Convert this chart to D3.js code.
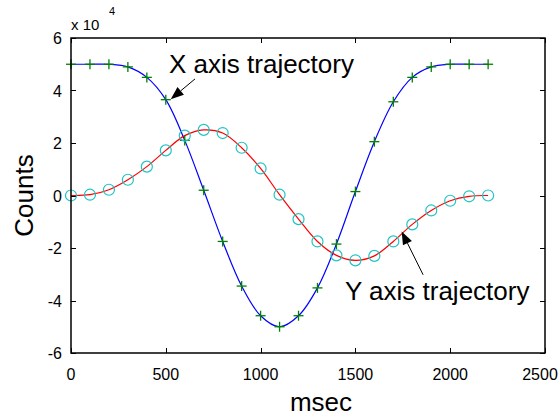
<!DOCTYPE html>
<html>
<head>
<meta charset="utf-8">
<script src="https://cdn.jsdelivr.net/npm/d3@7"></script>
<style>
  body { margin: 0; background: #fff; }
  text { font-family: "Liberation Sans", Arial, sans-serif; fill: #000; }
</style>
</head>
<body>
<script>
// size of the page
var w = 560;
var h = 417;
var margin = { top: 38, right: 15, bottom: 64, left: 71 };

// time axis, one sample every 100 msec
var msec = [0, 100, 200, 300, 400, 500, 600, 700, 800, 900, 1000, 1100,
            1200, 1300, 1400, 1500, 1600, 1700, 1800, 1900, 2000, 2100, 2200];

// X axis trajectory (counts)
var xTraj = [50000, 50000, 50000, 49000, 45000, 36500, 21000, 2000, -17500, -34500, -45800, -50000,
             -45800, -35200, -18500, 1500, 20500, 35700, 45000, 49000, 50000, 50000, 50000];

// Y axis trajectory (counts)
var yTraj = [0, 300, 2200, 6000, 11000, 17200, 22800, 25000, 23800, 18200, 10300, 300,
             -9000, -17500, -22800, -24700, -23000, -17500, -11000, -5700, -2000, -300, 0];

var xTicks = [0, 500, 1000, 1500, 2000, 2500];
var yTicks = [-60000, -40000, -20000, 0, 20000, 40000, 60000];
var yTickLabels = ["-6", "-4", "-2", "0", "2", "4", "6"];

// annotations: text anchor and arrow (tail -> tip) in data units
var notes = [
  { label: "X axis trajectory", tx: 517, ty: 46800, ax0: 654, ay0: 44400, ax1: 526, ay1: 36700 },
  { label: "Y axis trajectory", tx: 1445, ty: -39700, ax0: 1857, ay0: -30200, ax1: 1744, ay1: -13700 }
];

var svg = d3.select("body")
  .append("svg")
  .attr("width", w)
  .attr("height", h);

var xScale = d3.scaleLinear()
  .domain([0, 2500])
  .range([margin.left, w - margin.right]);

var yScale = d3.scaleLinear()
  .domain([-60000, 60000])
  .range([h - margin.bottom, margin.top]);

var x0 = xScale.range()[0], x1 = xScale.range()[1];
var y0 = yScale.range()[0], y1 = yScale.range()[1];

// ticks on all four sides, pointing inward
var tk = 5;
var tickG = svg.append("g").attr("stroke", "#000").attr("stroke-width", 1);
xTicks.forEach(function(t) {
  var x = Math.round(xScale(t)) + 0.5;
  tickG.append("line").attr("x1", x).attr("x2", x).attr("y1", y0).attr("y2", y0 - tk);
  tickG.append("line").attr("x1", x).attr("x2", x).attr("y1", y1).attr("y2", y1 + tk);
});
yTicks.forEach(function(t) {
  var y = Math.round(yScale(t)) + 0.5;
  tickG.append("line").attr("x1", x0).attr("x2", x0 + tk).attr("y1", y).attr("y2", y);
  tickG.append("line").attr("x1", x1).attr("x2", x1 - tk).attr("y1", y).attr("y2", y);
});

// tick labels (last one pulled in so it stays on the page)
svg.append("g").selectAll("text")
  .data(xTicks)
  .enter()
  .append("text")
  .attr("x", function(d) { return Math.min(xScale(d), w - 20); })
  .attr("y", y0 + 27)
  .attr("text-anchor", "middle")
  .style("font-size", "16px")
  .text(function(d) { return d; });

svg.append("g").selectAll("text")
  .data(yTicks)
  .enter()
  .append("text")
  .attr("x", x0 - 9)
  .attr("y", function(d) { return yScale(d) + 6; })
  .attr("text-anchor", "end")
  .style("font-size", "16px")
  .text(function(d, i) { return yTickLabels[i]; });

// exponent
svg.append("text").attr("x", x0).attr("y", 30).style("font-size", "15px").text("x 10");
svg.append("text").attr("x", x0 + 38).attr("y", 15).style("font-size", "11px").text("4");

// axis titles
svg.append("text")
  .attr("x", 321)
  .attr("y", 411)
  .attr("text-anchor", "middle")
  .style("font-size", "26px")
  .text("msec");

svg.append("text")
  .attr("transform", "translate(33," + ((y0 + y1) / 2) + ") rotate(-90)")
  .attr("text-anchor", "middle")
  .style("font-size", "26px")
  .text("Counts");

// trajectories
var lineX = d3.line()
  .x(function(d, i) { return xScale(msec[i]); })
  .y(function(d) { return yScale(d); })
  .curve(d3.curveCatmullRom.alpha(0.5));

svg.append("path")
  .datum(xTraj)
  .attr("d", lineX)
  .attr("fill", "none")
  .attr("stroke", "#0000ff")
  .attr("stroke-width", 1.2);

svg.append("path")
  .datum(yTraj)
  .attr("d", lineX)
  .attr("fill", "none")
  .attr("stroke", "#ff0000")
  .attr("stroke-width", 1.2);

// markers
var plus = svg.append("g").attr("stroke", "#008000").attr("stroke-width", 1.3);
xTraj.forEach(function(v, i) {
  var cx = xScale(msec[i]), cy = yScale(v);
  plus.append("line").attr("x1", cx - 5).attr("x2", cx + 5).attr("y1", cy).attr("y2", cy);
  plus.append("line").attr("x1", cx).attr("x2", cx).attr("y1", cy - 5).attr("y2", cy + 5);
});

svg.append("g").selectAll("circle")
  .data(yTraj)
  .enter()
  .append("circle")
  .attr("cx", function(d, i) { return xScale(msec[i]); })
  .attr("cy", function(d) { return yScale(d); })
  .attr("r", 5.5)
  .attr("fill", "none")
  .attr("stroke", "#1fc4c4")
  .attr("stroke-width", 1.2);

// box
svg.append("rect")
  .attr("x", x0)
  .attr("y", y1)
  .attr("width", x1 - x0)
  .attr("height", y0 - y1)
  .attr("fill", "none")
  .attr("stroke", "#000")
  .attr("stroke-width", 1.5);

// annotations with arrows
notes.forEach(function(n) {
  svg.append("text")
    .attr("x", xScale(n.tx))
    .attr("y", yScale(n.ty))
    .style("font-size", "26px")
    .text(n.label);

  var ax0 = xScale(n.ax0), ay0 = yScale(n.ay0);
  var ax1 = xScale(n.ax1), ay1 = yScale(n.ay1);
  var ang = Math.atan2(ay1 - ay0, ax1 - ax0);
  var len = 13, half = 5;
  var bx = ax1 - len * Math.cos(ang), by = ay1 - len * Math.sin(ang);
  svg.append("line")
    .attr("x1", ax0).attr("y1", ay0).attr("x2", bx).attr("y2", by)
    .attr("stroke", "#000").attr("stroke-width", 1);
  var px = -Math.sin(ang) * half, py = Math.cos(ang) * half;
  svg.append("path")
    .attr("d", "M" + ax1 + "," + ay1 + "L" + (bx + px) + "," + (by + py) + "L" + (bx - px) + "," + (by - py) + "Z")
    .attr("fill", "#000");
});
</script>
</body>
</html>
